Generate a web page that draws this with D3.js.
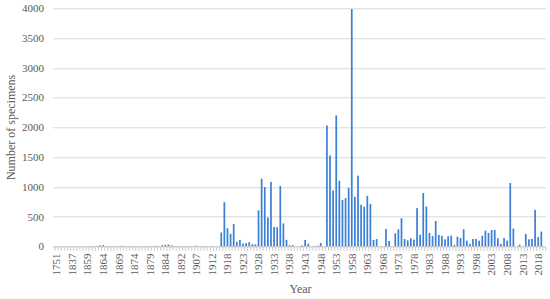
<!DOCTYPE html>
<html>
<head>
<meta charset="utf-8">
<script src="https://cdn.jsdelivr.net/npm/d3@7"></script>
<style>
  body { margin: 0; background: #fff; }
  svg text { font-family: "Liberation Serif", "DejaVu Serif", serif; fill: #595959; }
</style>
</head>
<body>
<div id="chart"></div>
<script>
// categories (years that have specimens)
const years = [
  1751, 1777, 1795, 1810, 1826, 1837, 1839, 1845, 1850, 1855,
  1859, 1860, 1861, 1862, 1863, 1864, 1865, 1866, 1867, 1868,
  1869, 1870, 1871, 1872, 1873, 1874, 1875, 1876, 1877, 1878,
  1879, 1880, 1881, 1882, 1883, 1884, 1885, 1886, 1888, 1890,
  1892, 1894, 1897, 1900, 1903, 1907, 1908, 1909, 1910, 1911,
  1912, 1913, 1914, 1916, 1917, 1918, 1919, 1920, 1921, 1922,
  1923, 1924, 1925, 1926, 1927, 1928, 1929, 1930, 1931, 1932,
  1933, 1934, 1935, 1936, 1937, 1938, 1939, 1940, 1941, 1942,
  1943, 1944, 1945, 1946, 1947, 1948, 1949, 1950, 1951, 1952,
  1953, 1954, 1955, 1956, 1957, 1958, 1959, 1960, 1961, 1962,
  1963, 1964, 1965, 1966, 1967, 1968, 1969, 1970, 1971, 1972,
  1973, 1974, 1975, 1976, 1977, 1978, 1979, 1980, 1981, 1982,
  1983, 1984, 1985, 1986, 1987, 1988, 1989, 1990, 1991, 1992,
  1993, 1994, 1995, 1996, 1997, 1998, 1999, 2000, 2001, 2002,
  2003, 2004, 2005, 2006, 2007, 2008, 2009, 2010, 2011, 2012,
  2013, 2014, 2015, 2016, 2017, 2018, 2019, 2020
];

// number of specimens per year
const specimens = [
  2, 1, 1, 2, 1, 2, 1, 2, 3, 2,
  3, 2, 4, 10, 18, 22, 5, 8, 3, 4,
  6, 12, 3, 2, 4, 3, 2, 5, 3, 4,
  6, 5, 10, 8, 22, 28, 32, 18, 6, 4,
  3, 2, 4, 2, 3, 14, 3, 2, 6, 3,
  4, 2, 3, 235, 745, 307, 213, 380, 80, 110,
  50, 54, 74, 37, 37, 607, 1138, 998, 486, 1085,
  329, 323, 1018, 388, 112, 22, 22, 0, 0, 18,
  110, 48, 3, 10, 15, 60, 0, 2032, 1528, 941,
  2200, 1104, 782, 812, 986, 3987, 834, 1190, 700, 668,
  851, 716, 110, 126, 0, 0, 295, 93, 0, 222,
  290, 475, 126, 104, 138, 115, 644, 199, 897, 671,
  228, 177, 430, 194, 177, 121, 172, 182, 25, 166,
  143, 290, 98, 42, 126, 126, 98, 182, 266, 228,
  278, 278, 138, 42, 143, 98, 1066, 300, 0, 30,
  0, 211, 121, 126, 615, 160, 250, 0
];

const yTicks = [0, 500, 1000, 1500, 2000, 2500, 3000, 3500, 4000];

const width = 550, height = 299;
const margin = { top: 8.3, right: 4, bottom: 52.5, left: 55 };
const innerW = width - margin.left - margin.right;
const innerH = height - margin.top - margin.bottom;

const svg = d3.select("#chart").append("svg")
  .attr("width", width)
  .attr("height", height);

const chart = svg.append("g")
  .attr("transform", `translate(${margin.left},${margin.top})`);

const x = d3.scaleBand()
  .domain(years)
  .range([0, innerW])
  .paddingInner(0.45)
  .paddingOuter(0.225);

const y = d3.scaleLinear()
  .domain([0, 4000])
  .range([innerH, 0]);

// gridlines
chart.selectAll("line.grid")
  .data(yTicks.slice(1))
  .join("line")
  .attr("class", "grid")
  .attr("x1", -2).attr("x2", innerW)
  .attr("y1", d => Math.round(y(d)) + 0.5)
  .attr("y2", d => Math.round(y(d)) + 0.5)
  .attr("stroke", "#d9d9d9")
  .attr("stroke-width", 1);

// y tick labels
chart.selectAll("text.ylab")
  .data(yTicks)
  .join("text")
  .attr("class", "ylab")
  .attr("x", -11)
  .attr("y", d => y(d))
  .attr("dy", "0.35em")
  .attr("text-anchor", "end")
  .attr("font-size", 11)
  .text(d => d);

// bars
chart.selectAll("rect.bar")
  .data(years)
  .join("rect")
  .attr("class", "bar")
  .attr("x", d => x(d))
  .attr("width", x.bandwidth())
  .attr("y", (d, i) => y(specimens[i]))
  .attr("height", (d, i) => innerH - y(specimens[i]))
  .attr("fill", "#3a80d6");

// x axis line and category tick marks
const base = Math.round(innerH) + 0.5;
chart.append("line")
  .attr("x1", -2).attr("x2", innerW)
  .attr("y1", base).attr("y2", base)
  .attr("stroke", "#bfbfbf");

const step = x.step();
chart.selectAll("line.tick")
  .data(years.concat(["end"]))
  .join("line")
  .attr("class", "tick")
  .attr("x1", (d, i) => i * step)
  .attr("x2", (d, i) => i * step)
  .attr("y1", base)
  .attr("y2", base + 4)
  .attr("stroke", "#bfbfbf")
  .attr("stroke-width", 0.8);

// x tick labels, every fifth category
chart.selectAll("text.xlab")
  .data(years.filter((d, i) => i % 5 === 0))
  .join("text")
  .attr("class", "xlab")
  .attr("transform", d => `translate(${x(d) + x.bandwidth() / 2},${innerH + 7}) rotate(-90)`)
  .attr("dy", "0.35em")
  .attr("text-anchor", "end")
  .attr("font-size", 11)
  .text(d => d);

// axis titles
svg.append("text")
  .attr("x", margin.left + innerW / 2)
  .attr("y", 293)
  .attr("text-anchor", "middle")
  .attr("font-size", 12)
  .text("Year");

svg.append("text")
  .attr("transform", `translate(15,${margin.top + innerH / 2}) rotate(-90)`)
  .attr("text-anchor", "middle")
  .attr("font-size", 12)
  .text("Number of specimens");
</script>
</body>
</html>
